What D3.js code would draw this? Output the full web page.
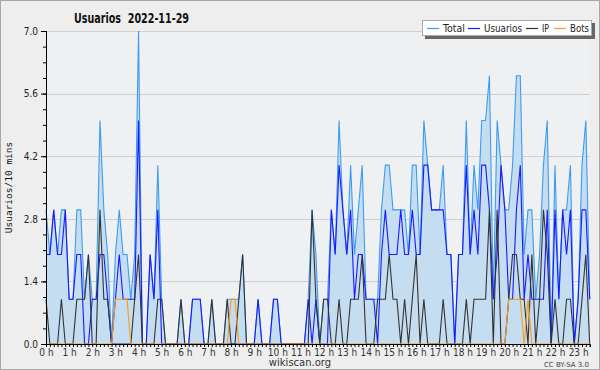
<!DOCTYPE html>
<html>
<head>
<meta charset="utf-8">
<script src="https://cdn.jsdelivr.net/npm/d3@7"></script>
<style>
  body { margin: 0; background: #eeeeee; }
  svg { display: block; }
</style>
</head>
<body>
<script>
// wikiscan style chart - usuarios per 10 min

var title = "Usuarios  2022-11-29";
var yTitle = "Usuarios/10 mins";
var seriesNames = ["Total", "Usuarios", "IP", "Bots"];
var yTicks = [0, 1.4, 2.8, 4.2, 5.6, 7.0];
var hourLabels = ["0 h","1 h","2 h","3 h","4 h","5 h","6 h","7 h","8 h","9 h","10 h","11 h",
  "12 h","13 h","14 h","15 h","16 h","17 h","18 h","19 h","20 h","21 h","22 h","23 h"];

// one value per 10 minutes, 0h00 .. 23h30
var total = [3,2,3,2,3,3,1,1,3,3, 1,2,1,1,5,3,2,0,2,3, 2,2,1,2,7,0,0,2,1,4,
  1,0,0,0,0,1,0,0,1,1, 1,0,0,1,0,0,0,1,1,1, 1,2,0,0,0,1,0,0,0,1,
  1,0,0,0,0,0,0,0,1,3, 2,0,1,1,3,2,5,3,2,4, 2,3,4,1,1,1,1,3,4,4,
  3,3,3,3,2,4,4,2,5,4, 3,3,3,4,2,2,0,2,2,5, 2,4,3,5,5,6,1,5,4,3,
  3,4,6,6,2,3,3,1,2,4, 5,0,4,1,3,3,4,0,1,4, 5,1];
var usuarios = [2,2,3,2,2,3,1,1,2,2, 0,0,1,1,2,2,1,0,1,2, 1,1,1,1,5,0,0,2,1,3,
  0,0,0,0,0,0,0,0,1,1, 1,0,0,0,0,0,0,0,0,0, 0,0,0,0,0,1,0,0,0,1,
  1,0,0,0,0,0,0,0,1,0, 1,0,0,0,3,2,4,3,2,3, 1,2,2,1,1,1,0,2,3,2,
  2,2,3,2,2,3,2,2,4,4, 3,3,3,3,2,2,0,2,2,4, 2,3,2,4,4,3,1,2,4,3,
  1,1,3,4,1,2,1,1,1,1, 3,0,3,1,3,2,3,0,1,3, 3,1];
var ip = [1,0,0,0,1,0,0,0,1,1, 1,2,0,0,3,1,1,0,0,0, 0,0,0,1,2,0,0,0,0,1,
  1,0,0,0,0,1,0,0,0,0, 0,0,0,1,0,0,0,1,0,0, 1,2,0,0,0,0,0,0,0,0,
  0,0,0,0,0,0,0,0,0,3, 1,0,1,1,0,0,1,0,0,1, 1,1,2,0,0,0,1,1,1,2,
  1,1,0,1,0,1,2,0,1,0, 0,0,0,1,0,0,0,0,0,1, 0,1,1,1,1,3,0,3,0,0,
  1,2,2,1,1,0,2,0,1,3, 2,0,1,0,0,1,1,0,0,1, 2,0];
var bots = [0,0,0,0,0,0,0,0,0,0, 0,0,0,0,0,0,0,0,1,1, 1,1,0,0,0,0,0,0,0,0,
  0,0,0,0,0,0,0,0,0,0, 0,0,0,0,0,0,0,0,1,1, 0,0,0,0,0,0,0,0,0,0,
  0,0,0,0,0,0,0,0,0,0, 0,0,0,0,0,0,0,0,0,0, 0,0,0,0,0,0,0,0,0,0,
  0,0,0,0,0,0,0,0,0,0, 0,0,0,0,0,0,0,0,0,0, 0,0,0,0,0,0,0,0,0,0,
  1,1,1,1,0,1,0,0,0,0, 0,0,0,0,0,0,0,0,0,0, 0,0];

var colors = {total: "#3d9df0", usuarios: "#1a1aff", ip: "#333333", bots: "#ff9a1a"};
var condensed = "'DejaVu Sans Condensed', 'DejaVu Sans', sans-serif";

var W = 600, H = 370;
var plot = {left: 46, right: 589.7, top: 31, bottom: 344};

var svg = d3.select("body").append("svg")
  .attr("width", W).attr("height", H)
  .style("font-family", "'DejaVu Sans', sans-serif");

svg.append("rect").attr("x", 0.5).attr("y", 0.5)
  .attr("width", W - 1).attr("height", H - 1)
  .attr("fill", "#eeeeee").attr("stroke", "#a8a8a8");

var x = d3.scaleLinear().domain([0, total.length - 1]).range([plot.left, plot.right]);
var y = d3.scaleLinear().domain([0, 7]).range([plot.bottom, plot.top]);

svg.append("rect")
  .attr("x", plot.left).attr("y", plot.top)
  .attr("width", plot.right - plot.left).attr("height", plot.bottom - plot.top)
  .attr("fill", "#eff0f2");

// grid
svg.append("g").selectAll("line").data(yTicks.slice(1)).enter().append("line")
  .attr("x1", plot.left).attr("x2", plot.right)
  .attr("y1", function(d) { return Math.round(y(d)) + 0.5; })
  .attr("y2", function(d) { return Math.round(y(d)) + 0.5; })
  .attr("stroke", "#cfcfcf");

// area under total
var area = d3.area()
  .x(function(d, i) { return x(i); })
  .y0(y(0))
  .y1(function(d) { return y(d); });
svg.append("path").datum(total).attr("d", area)
  .attr("fill", "#c5ddf0");

function line(data, color) {
  svg.append("path").datum(data)
    .attr("d", d3.line().x(function(d, i) { return x(i); }).y(function(d) { return y(d); }))
    .attr("fill", "none").attr("stroke", color).attr("stroke-width", 1.1);
}
line(total, colors.total);
line(usuarios, colors.usuarios);
line(ip, colors.ip);
line(bots, colors.bots);

// y axis
var yMinor = d3.range(0, 21).map(function(i) { return i * 0.35; });
var yAxis = svg.append("g").attr("transform", "translate(" + plot.left + ",0)");
yAxis.call(d3.axisLeft(y).tickValues(yMinor).tickSize(3).tickFormat(""));
yAxis.append("g").call(d3.axisLeft(y).tickValues(yTicks).tickSize(5).tickFormat(d3.format(".1f")));
yAxis.selectAll("path.domain").attr("stroke", "#000");
yAxis.selectAll("line").attr("stroke", "#000");
yAxis.selectAll("text").attr("font-size", "10px").attr("fill", "#222")
  .attr("font-family", condensed);

// x axis
var xAxis = svg.append("g").attr("transform", "translate(0," + plot.bottom + ")");
xAxis.call(d3.axisBottom(x).tickValues(d3.range(0, total.length)).tickSize(3)
  .tickFormat(function(d) { return d % 6 === 0 ? hourLabels[d / 6] : ""; })
  .tickPadding(2));
xAxis.selectAll("path.domain").attr("stroke", "#000");
xAxis.selectAll("line").attr("stroke", "#000");
xAxis.selectAll("text").attr("font-size", "10px").attr("fill", "#333")
  .attr("font-family", condensed);

// titles
svg.append("text").attr("x", 74).attr("y", 23).text(title)
  .style("white-space", "pre")
  .attr("textLength", 115).attr("lengthAdjust", "spacingAndGlyphs")
  .attr("font-size", "13.5px").attr("font-weight", "bold").attr("fill", "#111")
  .attr("font-family", condensed);

svg.append("text")
  .attr("transform", "translate(12," + ((plot.top + plot.bottom) / 2) + ") rotate(-90)")
  .attr("text-anchor", "middle").text(yTitle)
  .attr("font-size", "9.5px").attr("fill", "#111")
  .attr("font-family", "'DejaVu Sans Mono', monospace");

svg.append("text").attr("x", 300).attr("y", 366).attr("text-anchor", "middle")
  .text("wikiscan.org").attr("font-size", "10px").attr("fill", "#333");
svg.append("text").attr("x", 589).attr("y", 367).attr("text-anchor", "end")
  .text("CC BY-SA 3.0").attr("font-size", "7px").attr("fill", "#444");

// legend
var lg = svg.append("g");
lg.append("rect").attr("x", 425).attr("y", 23).attr("width", 170).attr("height", 16).attr("fill", "#666");
lg.append("rect").attr("x", 422.5).attr("y", 20.5).attr("width", 169).attr("height", 15)
  .attr("fill", "#fff").attr("stroke", "#aaa");
var legendX = [427, 468, 526, 554];
var legendWidth = [22, 38, 7, 19];
var legendColors = [colors.total, colors.usuarios, colors.ip, colors.bots];
seriesNames.forEach(function(name, i) {
  lg.append("line").attr("x1", legendX[i]).attr("x2", legendX[i] + 12)
    .attr("y1", 28.5).attr("y2", 28.5).attr("stroke", legendColors[i]).attr("stroke-width", 1.2);
  lg.append("text").attr("x", legendX[i] + 16).attr("y", 32).text(name)
    .attr("textLength", legendWidth[i]).attr("lengthAdjust", "spacingAndGlyphs")
    .attr("font-size", "11px").attr("fill", "#222")
    .attr("font-family", condensed);
});
</script>
</body>
</html>
